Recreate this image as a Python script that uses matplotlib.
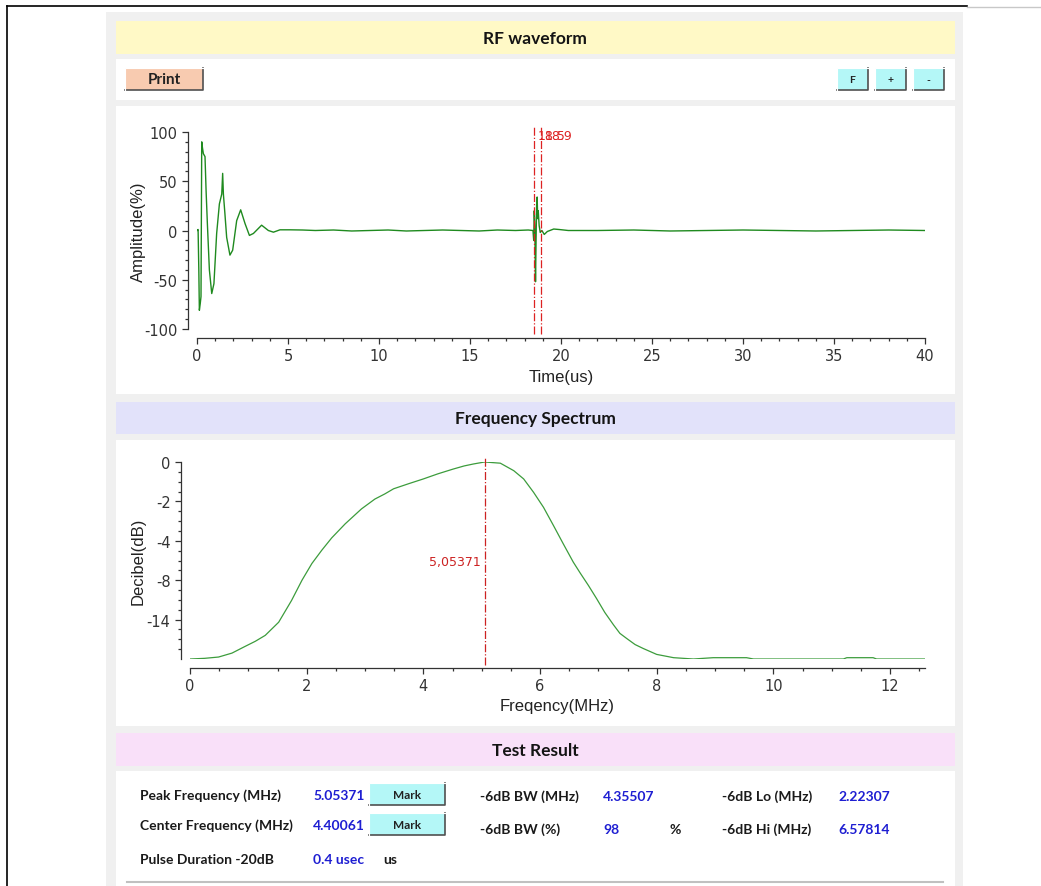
import numpy as np
import matplotlib
matplotlib.use("Agg")
import matplotlib.pyplot as plt
from matplotlib.patches import Rectangle
from matplotlib.ticker import FixedLocator, MultipleLocator, FuncFormatter

# ---------------- data ----------------
RF_TIME = [0.00, 0.06, 0.10, 0.13, 0.18, 0.22, 0.26, 0.30, 0.35, 0.44, 0.50, 0.57, 0.68,
           0.81, 0.93, 1.08, 1.23, 1.36, 1.41, 1.45, 1.53, 1.63, 1.81, 1.96, 2.18, 2.40,
           2.64, 2.88, 3.10, 3.55, 3.92, 4.20, 4.56, 5.10,
           5.8, 6.5, 7.5, 8.5, 9.5, 10.5, 11.5, 12.5, 13.5, 14.5, 15.5, 16.5, 17.5, 18.2,
           18.46, 18.50, 18.53, 18.56, 18.60, 18.63, 18.66, 18.69, 18.72, 18.75, 18.80,
           18.86, 18.95, 19.08, 19.25, 19.6, 19.9, 20.4, 22, 24, 26, 28, 30, 32, 34, 36,
           38, 40]
RF_AMP = [0, 1, -40, -81, -74, -67, 90, 84, 78, 75, 40, 7, -40,
          -64, -54, -3, 27, 37, 58, 37, 18, -7, -25, -20, 10, 21,
          7, -5, -3, 5.4, 0, -1.7, 0.7, 0.7,
          0.5, 0, 0.5, -0.5, 0, 0.5, -0.5, 0, 0.5, 0, -0.5, 0.5, 0, 0.5,
          0, -10, 20, 5, -52, -10, 25, 34, 12, 20, 5,
          -2, 0, -4, -1, 1.5, 1, 0, 0, 0.5, -0.5, 0, 0.5, 0, -0.5, 0,
          0.5, 0]
ECHO_MARKS = [18.5, 18.9]

SPEC_FREQ = [0.0, 0.25, 0.49, 0.72, 0.94, 1.12, 1.29, 1.52, 1.74, 1.92, 2.09, 2.26,
             2.43, 2.66, 2.94, 3.17, 3.34, 3.49, 3.75, 4.0, 4.25, 4.51, 4.70, 4.86,
             5.05, 5.32, 5.55, 5.72, 5.89, 6.06, 6.23, 6.40, 6.57, 6.69, 6.83, 6.97,
             7.11, 7.26, 7.37, 7.49, 7.63, 7.77, 8.0, 8.29, 8.63, 8.97, 9.54, 9.66,
             11.2, 11.26, 11.71, 11.77, 12.6]
SPEC_DB = [-20.0, -19.9, -19.7, -19.1, -18.1, -17.3, -16.4, -14.4, -11.1, -8.0, -6.3,
           -4.95, -3.85, -3.14, -2.38, -1.88, -1.62, -1.36, -1.1, -0.86, -0.6, -0.36,
           -0.2, -0.1, 0.0, -0.06, -0.44, -0.86, -1.54, -2.3, -3.22, -4.32, -6.16,
           -7.28, -8.8, -10.8, -12.9, -14.8, -16.1, -16.9, -17.8, -18.4, -19.3, -19.8,
           -20.0, -19.8, -19.8, -20.0, -20.0, -19.8, -19.8, -20.0, -20.0]
DB_TICKS = [0, -2, -4, -8, -14]

PEAK_FREQ = 5.05371
RESULTS = {
    "peak": "5.05371", "center": "4.40061", "bw_mhz": "4.35507", "bw_pct": "98",
    "lo": "2.22307", "hi": "6.57814", "pulse": "0.4 usec",
}

# ---------------- figure ----------------
W, H = 1041, 887
plt.rcParams['font.family'] = ['Liberation Sans', 'DejaVu Sans']
fig = plt.figure(figsize=(W / 100, H / 100), dpi=100)
fig.patch.set_facecolor('white')

bg = fig.add_axes([0, 0, 1, 1], zorder=0)
bg.set_xlim(0, W)
bg.set_ylim(H, 0)
bg.axis('off')

def rect(x0, y0, x1, y1, fc, ec='none', lw=0, z=1):
    bg.add_patch(Rectangle((x0, y0), x1 - x0, y1 - y0, facecolor=fc, edgecolor=ec,
                           linewidth=lw, zorder=z))

# frame lines
bg.plot([7, 967], [7, 7], color='black', lw=1.2, zorder=5)
bg.plot([967, W], [8, 8], color='#c8c8c8', lw=1.0, zorder=5)
bg.plot([7, 7], [7, H], color='black', lw=1.2, zorder=5)

# outer gray panel
rect(106, 13, 963, H, '#f0f0f0')
# headers and panels
rect(116, 22, 955, 55, '#fff9c6')
rect(116, 60, 955, 101, 'white')
rect(116, 107, 955, 395, 'white')
rect(116, 403, 955, 435, '#e2e2fa')
rect(116, 441, 955, 727, 'white')
rect(116, 734, 955, 767, '#f9e0f9')
rect(116, 772, 955, H, 'white')
bg.plot([127, 943], [883, 883], color='#c0c0c0', lw=1.5, zorder=3)

HFONT = ['Lato', 'Open Sans', 'DejaVu Sans']
for txt, y in [("RF waveform", 39), ("Frequency Spectrum", 419), ("Test Result", 751)]:
    bg.text(535, y, txt, ha='center', va='center', fontsize=12.5, fontweight='bold',
            family=HFONT, color='#141414', zorder=6)

def button(x0, y0, x1, y1, fc, label, fs=8.5):
    rect(x0, y0, x1, y1, fc, z=4)
    bg.plot([x0, x1, x1], [y1, y1, y0], color='#505050', lw=1.2, zorder=5)
    bg.plot([x0, x0, x1], [y1, y0, y0], color='white', lw=0.8, zorder=5)
    bg.text((x0 + x1) / 2, (y0 + y1) / 2 + 0.5, label, ha='center', va='center',
            fontsize=fs, fontweight='bold', family=HFONT, color='#222222', zorder=6)

button(125, 69, 203, 91, '#f8cbb0', 'Print', 11)
button(837, 69, 868, 91, '#b4f7f7', 'F', 7.5)
button(875, 69, 906, 91, '#b4f7f7', '+', 7.5)
button(913, 69, 944, 91, '#b4f7f7', '-', 7.5)

# ---------------- plot axes ----------------
TICKFONT = ['Liberation Sans Narrow', 'DejaVu Sans']
SPINE = '#333333'

def px_axes(x0, y0, x1, y1):
    return fig.add_axes([x0 / W, 1 - y1 / H, (x1 - x0) / W, (y1 - y0) / H], zorder=2)

def style(ax):
    ax.patch.set_alpha(0)
    for s in ('top', 'right'):
        ax.spines[s].set_visible(False)
    for s in ('left', 'bottom'):
        ax.spines[s].set_position(('outward', 6.5))
        ax.spines[s].set_color(SPINE)
        ax.spines[s].set_linewidth(0.9)
    ax.tick_params(which='major', length=4.5, width=0.9, color=SPINE, labelsize=10.5,
                   labelcolor='#333333', pad=3)
    ax.tick_params(which='minor', length=2.5, width=0.9, color=SPINE)
    for lab in ax.get_xticklabels() + ax.get_yticklabels():
        lab.set_family(TICKFONT)

hyphen = FuncFormatter(lambda v, p: f"{v:g}".replace('\u2212', '-'))

# RF waveform
ax1 = px_axes(197, 133, 925, 330)
ax1.plot(RF_TIME, RF_AMP, color='#1f8a1f', lw=1.0)
ax1.set_xlim(0, 40)
ax1.set_ylim(-100, 100)
ax1.xaxis.set_major_locator(MultipleLocator(5))
ax1.xaxis.set_minor_locator(MultipleLocator(1))
ax1.yaxis.set_major_locator(MultipleLocator(50))
ax1.yaxis.set_minor_locator(MultipleLocator(10))
ax1.xaxis.set_major_formatter(hyphen)
ax1.yaxis.set_major_formatter(hyphen)
style(ax1)
for t in ECHO_MARKS:
    ax1.axvline(t, ymin=-0.025, ymax=1.03, color='#dd2222', lw=0.9, ls='-.', clip_on=False)
    ax1.text(t + 0.2, 96, f"{t:g}", color='#dd2222', fontsize=9, family=TICKFONT,
             ha='left', va='center')
ax1.set_xlabel('Time(us)', fontsize=12, labelpad=4, color='#222222')
ax1.set_ylabel('Amplitude(%)', fontsize=12, color='#222222')
ax1.yaxis.set_label_coords((146 - 197) / 728, 0.5)

# Frequency spectrum (non-uniform dB axis)
DB_ABS = [-100, 0, 2, 4, 8, 14, 20, 120]
POS = [-50, 0, 1, 2, 3, 4, 5, 22]
fwd = lambda d: -np.interp(-np.asarray(d, float), DB_ABS, POS)
inv = lambda p: -np.interp(-np.asarray(p, float), POS, DB_ABS)

ax2 = px_axes(190, 463, 925, 660)
ax2.set_yscale('function', functions=(fwd, inv))
ax2.plot(SPEC_FREQ, SPEC_DB, color='#3c9c3c', lw=0.9)
ax2.set_xlim(0, 12.6)
ax2.set_ylim(-20, 0)
ax2.xaxis.set_major_locator(MultipleLocator(2))
ax2.xaxis.set_minor_locator(MultipleLocator(0.5))
ax2.yaxis.set_major_locator(FixedLocator(DB_TICKS))
minor_pos = [q for q in np.arange(0.25, 5.0, 0.25) if abs(q - round(q)) > 1e-6]
ax2.yaxis.set_minor_locator(FixedLocator([float(inv(-q)) for q in minor_pos]))
ax2.xaxis.set_major_formatter(hyphen)
ax2.yaxis.set_major_formatter(hyphen)
style(ax2)
ax2.axvline(PEAK_FREQ, ymin=-0.03, ymax=1.02, color='#cc2222', lw=0.9, ls='-.', clip_on=False)
ax2.text(PEAK_FREQ - 0.07, -6.1, f"{PEAK_FREQ:.5f}".replace('.', ','), color='#cc2222',
         fontsize=9, family=TICKFONT, ha='right', va='center')
ax2.set_xlabel('Freqency(MHz)', fontsize=12, labelpad=3, color='#222222')
ax2.set_ylabel('Decibel(dB)', fontsize=12, color='#222222')
ax2.yaxis.set_label_coords((146 - 190) / 735, 0.5)

# ---------------- results ----------------
LF = dict(fontsize=10, family=HFONT, color='#1a1a1a', va='center', ha='left', zorder=6,
          fontweight='bold')
VF = dict(fontsize=10, family=HFONT, color='#1e1ed2', va='center', ha='left', zorder=6,
          fontweight='bold')

bg.text(140, 796, 'Peak Frequency (MHz)', **LF)
bg.text(313, 796, RESULTS['peak'], **VF)
button(369, 784, 445, 806, '#b4f7f7', 'Mark', 8.5)
bg.text(480, 797, '-6dB BW (MHz)', **LF)
bg.text(603, 797, RESULTS['bw_mhz'], **VF)
bg.text(722, 797, '-6dB Lo (MHz)', **LF)
bg.text(838, 797, RESULTS['lo'], **VF)

bg.text(140, 826, 'Center Frequency (MHz)', **LF)
bg.text(313, 826, RESULTS['center'], **VF)
button(369, 814, 445, 836, '#b4f7f7', 'Mark', 8.5)
bg.text(480, 830, '-6dB BW (%)', **LF)
bg.text(603, 830, RESULTS['bw_pct'], **VF)
bg.text(670, 830, '%', **LF)
bg.text(722, 830, '-6dB Hi (MHz)', **LF)
bg.text(838, 830, RESULTS['hi'], **VF)

bg.text(140, 860, 'Pulse Duration -20dB', **LF)
bg.text(313, 860, RESULTS['pulse'], **VF)
bg.text(383, 860, 'us', **LF)

fig.savefig('out.png', dpi=100)
